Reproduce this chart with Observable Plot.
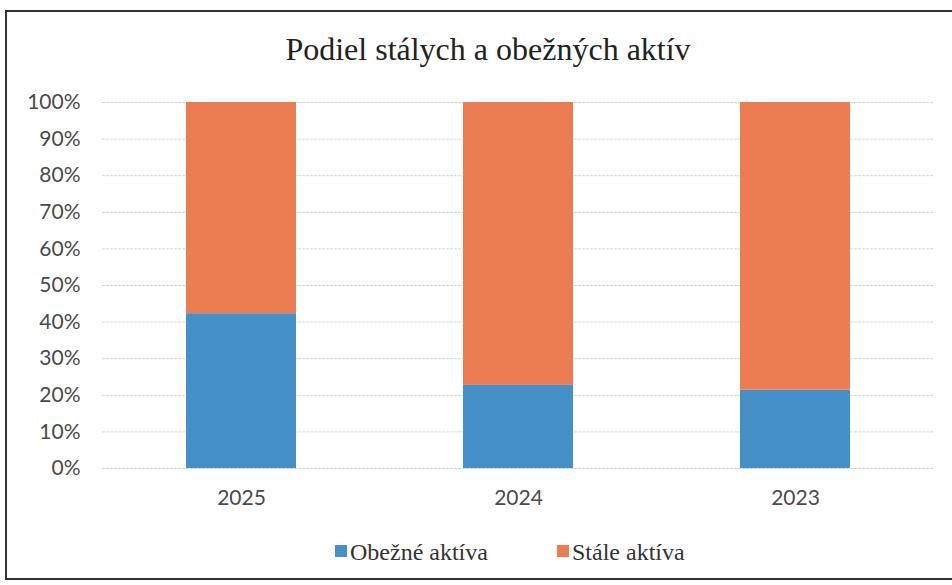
<!DOCTYPE html>
<html><head><meta charset="utf-8">
<script src="https://cdn.jsdelivr.net/npm/d3@7"></script>
<script src="https://cdn.jsdelivr.net/npm/@observablehq/plot@0.6"></script>
<style>
body{margin:0;background:#fff;width:952px;height:585px;overflow:hidden;position:relative;}
#frame{position:absolute;left:5px;top:10px;width:966px;height:570px;border:2px solid #333;box-sizing:border-box;}
#title{position:absolute;left:5px;width:966px;top:31px;text-align:center;font-family:"Liberation Serif","DejaVu Serif",serif;font-size:32px;color:#222;}
#chart{position:absolute;left:0;top:80px;}
.lgitem{position:absolute;top:537px;white-space:nowrap;line-height:28px;height:28px;}
.lgsw{display:inline-block;width:12px;height:12px;margin-right:3px;vertical-align:middle;position:relative;top:-1px;}
.lgtx{font-family:"Liberation Serif","DejaVu Serif",serif;font-size:24px;color:#333;vertical-align:middle;}
</style></head><body>
<div id="frame"></div>
<div id="title">Podiel stálych a obežných aktív</div>
<div id="chart"></div>
<div id="legend"></div>
<script>
const years = ["2025", "2024", "2023"];
const obezne = [42.3, 22.7, 21.4];
const stale = [57.7, 77.3, 78.6];
const seriesNames = ["Obežné aktíva", "Stále aktíva"];
const seriesColors = ["#4690c8", "#ec7d52"];
const yTicks = [0,10,20,30,40,50,60,70,80,90,100];

const rows = [];
years.forEach((y,i)=>{
  rows.push({year:y, series:seriesNames[0], value:obezne[i]});
  rows.push({year:y, series:seriesNames[1], value:stale[i]});
});

const plot = Plot.plot({
  width: 952, height: 440,
  marginLeft: 102, marginRight: 18, marginTop: 22, marginBottom: 52,
  style:{fontFamily:"Lato, 'Open Sans', sans-serif", fontSize:"21px", color:"#4a4a4a", background:"transparent"},
  x:{domain:years, paddingInner:0.604, paddingOuter:0.302, label:null, tickSize:0, tickPadding:22},
  y:{domain:[0,100], ticks:yTicks, tickFormat:d=>d+"%", label:null, tickSize:0, tickPadding:22},
  color:{domain:seriesNames, range:seriesColors},
  marks:[
    Plot.ruleY(yTicks, {stroke:"#d4d4d4", strokeWidth:1, strokeDasharray:"3,1"}),
    Plot.barY(rows, Plot.stackY({x:"year", y:"value", fill:"series", order:seriesNames}))
  ]
});
document.getElementById("chart").appendChild(plot);

const leg = document.getElementById("legend");
const lx = [335, 557];
seriesNames.forEach((n,i)=>{
  const d = document.createElement("div");
  d.className="lgitem"; d.style.left=lx[i]+"px";
  const sw = document.createElement("span");
  sw.className="lgsw"; sw.style.background=seriesColors[i];
  const tx = document.createElement("span");
  tx.className="lgtx"; tx.textContent=n;
  d.appendChild(sw); d.appendChild(tx);
  leg.appendChild(d);
});
</script>
</body></html>
